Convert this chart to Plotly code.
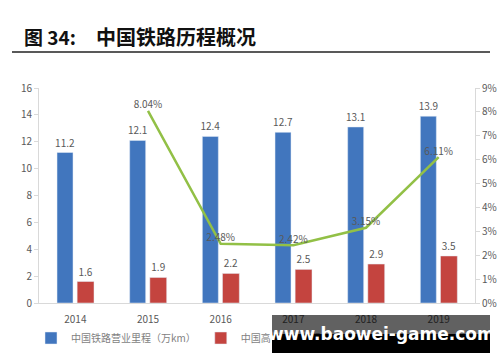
import plotly.graph_objects as go
from plotly.subplots import make_subplots

years = ["2014", "2015", "2016", "2017", "2018", "2019"]
rail_km = [11.2, 12.1, 12.4, 12.7, 13.1, 13.9]
hsr_km = [1.6, 1.9, 2.2, 2.5, 2.9, 3.5]
hsr_growth = [None, 8.04, 2.48, 2.42, 3.15, 6.11]
left_ticks = [0, 2, 4, 6, 8, 10, 12, 14, 16]
right_ticks = [0, 1, 2, 3, 4, 5, 6, 7, 8, 9]

BLUE = "#4176BE"
RED = "#C4443F"
GREEN = "#92C046"
GRAY = "#595959"
FONT = "Noto Sans CJK SC"

L, R, T, B = 39, 25, 88, 59
PW, PH = 500 - L - R, 362 - T - B


def px(x):
    return (x - L) / PW


def py(y):
    return (362 - B - y) / PH


fig = make_subplots(specs=[[{"secondary_y": True}]])

fig.add_trace(go.Bar(
    x=years, y=rail_km, name="中国铁路营业里程（万km）",
    marker_color=BLUE, width=0.22, offset=-0.252,
    text=[f"{v:.1f}" for v in rail_km], textposition="outside",
    constraintext="none",
    textfont=dict(size=10, color=GRAY, family=FONT), cliponaxis=False,
), secondary_y=False)

fig.add_trace(go.Bar(
    x=years, y=hsr_km, name="中国高铁运营里程（万km）",
    marker_color=RED, width=0.232, offset=0.025,
    text=[f"{v:.1f}" for v in hsr_km], textposition="outside",
    constraintext="none",
    textfont=dict(size=10, color=GRAY, family=FONT), cliponaxis=False,
), secondary_y=False)

fig.add_trace(go.Scatter(
    x=years, y=hsr_growth, name="高铁里程增速",
    mode="lines+text", line=dict(color=GREEN, width=2.5),
    text=[("" if v is None else f"{v:.2f}%") for v in hsr_growth],
    textposition="top center",
    textfont=dict(size=10, color=GRAY, family=FONT), cliponaxis=False,
    showlegend=False,
), secondary_y=True)

fig.update_layout(
    width=500, height=362,
    margin=dict(l=L, r=R, t=T, b=B, autoexpand=False),
    paper_bgcolor="white", plot_bgcolor="white",
    barmode="overlay",
    font=dict(family=FONT, color=GRAY, size=9),
    legend=dict(orientation="h", xref="container", yref="container",
                x=31 / 500, xanchor="left", y=1 - 338 / 362, yanchor="middle",
                font=dict(size=10, color="#7F7F7F", family=FONT), itemwidth=30,
                bgcolor="rgba(0,0,0,0)"),
)

fig.update_xaxes(
    type="category", domain=[0, 1], showline=True, linecolor="#D9D9D9", linewidth=1,
    ticks="outside", ticklen=7, tickcolor="rgba(0,0,0,0)",
    showgrid=False, tickfont=dict(size=10, color=GRAY), automargin=False,
)
fig.update_yaxes(
    range=[0, 16], tickvals=left_ticks, showline=True, linecolor="#D9D9D9",
    ticks="outside", ticklen=4, tickcolor="#D9D9D9", showgrid=False,
    zeroline=False, tickfont=dict(size=10, color=GRAY), secondary_y=False,
    automargin=False,
)
fig.update_yaxes(
    range=[0, 9], tickvals=right_ticks, ticktext=[f"{t}%" for t in right_ticks],
    showline=True, linecolor="#D9D9D9",
    ticks="outside", ticklen=4, tickcolor="#D9D9D9", showgrid=False,
    zeroline=False, tickfont=dict(size=10, color=GRAY), secondary_y=True,
    automargin=False,
)

# Title and rule
fig.add_annotation(
    xref="paper", yref="paper", x=px(22), y=py(37), xanchor="left", yanchor="middle",
    text="<b>图 34:</b>", showarrow=False,
    font=dict(size=19, color="#111111", family=FONT),
)
fig.add_annotation(
    xref="paper", yref="paper", x=px(94), y=py(37), xanchor="left", yanchor="middle",
    text="<b>中国铁路历程概况</b>", showarrow=False,
    font=dict(size=20, color="#111111", family=FONT),
)
fig.add_shape(type="line", xref="paper", yref="paper",
              x0=px(12), x1=px(490), y0=py(52), y1=py(52),
              line=dict(color="#222222", width=1.5))

# Watermark box overlay (translucent top band, solid bottom band)
fig.add_annotation(
    xref="paper", yref="paper", x=px(272), y=py(315),
    xanchor="left", yanchor="top", text="", showarrow=False,
    width=218, height=19, bgcolor="rgba(0,0,0,0.62)", borderpad=0, borderwidth=0,
)
fig.add_annotation(
    xref="paper", yref="paper", x=px(272), y=py(334),
    xanchor="left", yanchor="top", text="", showarrow=False,
    width=218, height=19, bgcolor="#000000", borderpad=0, borderwidth=0,
)
fig.add_annotation(
    xref="paper", yref="paper", x=px(381), y=py(334),
    xanchor="center", yanchor="middle", text="<b>www.baowei-game.com</b>",
    showarrow=False, font=dict(size=17, color="white", family="DejaVu Sans"),
)

fig.write_html("out.html", config={"displayModeBar": False},
               post_script="document.body.style.margin='0px';")
